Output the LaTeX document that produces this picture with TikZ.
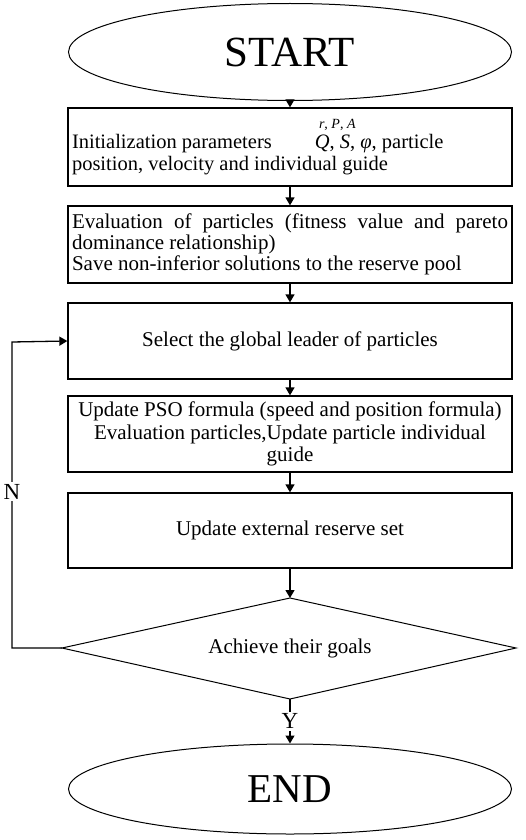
\documentclass[tikz,border=0pt]{standalone}
\usepackage{fontspec}
\setmainfont{Liberation Serif}
\usetikzlibrary{arrows.meta,shapes.geometric}
\begin{document}
\begin{tikzpicture}[x=1pt,y=-1pt,
  box/.style={draw,line width=1.3pt,minimum width=444pt,inner sep=0pt,align=center},
  arr/.style={line width=1.3pt,-{Triangle[length=8pt,width=9pt]}},
  oval/.style={draw,ellipse,line width=1pt,minimum width=443pt,inner sep=0pt},
  txt/.style={font=\fontsize{21}{21}\selectfont},
  yn/.style={fill=white,inner sep=2pt,font=\fontsize{23}{23}\selectfont}
]
\fill[white] (0,0) rectangle (526,840);
\useasboundingbox (0,0) rectangle (526,840);

\node[oval,minimum height=97pt,font=\fontsize{43}{43}\selectfont] (start) at (290,52) {START};

\node[box,minimum height=78pt] (b1) at (290,147) {\parbox{436pt}{\raggedright\fontsize{20.5}{22}\selectfont
Initialization parameters\hspace{2.1em}\rlap{\raisebox{0.95em}{\fontsize{14}{14}\selectfont\hspace{0.3em}\textit{r}, \textit{P}, \textit{A}}}\textit{Q}, \textit{S}, \textit{φ}, particle\\
position, velocity and individual guide}};

\node[box,minimum height=77pt] (b2) at (290,244.5) {\parbox{436pt}{\fontsize{21}{21}\selectfont
Evaluation of particles (fitness value and pareto\linebreak dominance relationship)\\
Save non-inferior solutions to the reserve pool}};

\node[box,minimum height=76pt,txt] (b3) at (290,341) {Select the global leader of particles};

\node[box,minimum height=76pt] (b4) at (290,434) {\parbox{440pt}{\centering\fontsize{21}{22.5}\selectfont
Update PSO formula (speed and position formula)\\
Evaluation particles,Update particle individual\\
guide}};

\node[box,minimum height=75pt,txt] (b5) at (290,530.5) {Update external reserve set};

% decision diamond
\coordinate (dtop) at (290,598);
\coordinate (dbot) at (290,699);
\coordinate (dleft) at (62,648);
\coordinate (dright) at (516,648);
\draw[line width=1pt,line join=miter] (dtop) -- (dright) -- (dbot) -- (dleft) -- cycle;
\node[txt,inner sep=0pt] (dec) at (290,648) {Achieve their goals};

\node[oval,minimum height=90pt,font=\fontsize{41}{41}\selectfont] (end) at (290,789) {END};

\coordinate (l1) at (12,648);
\coordinate (l2) at (12,342);

\draw[arr] (start.south) -- (b1.north);
\draw[arr] (b1.south) -- (b2.north);
\draw[arr] (b2.south) -- (b3.north);
\draw[arr] (b3.south) -- (b4.north);
\draw[arr] (b4.south) -- (b5.north);
\draw[arr] (b5.south) -- (dtop);
\draw[arr] (dbot) -- node[yn] {Y} (end.north);
\draw[arr] (dleft) -- (l1) -- node[yn,pos=0.51] {N} (l2) -- (b3.west);
\end{tikzpicture}
\end{document}
